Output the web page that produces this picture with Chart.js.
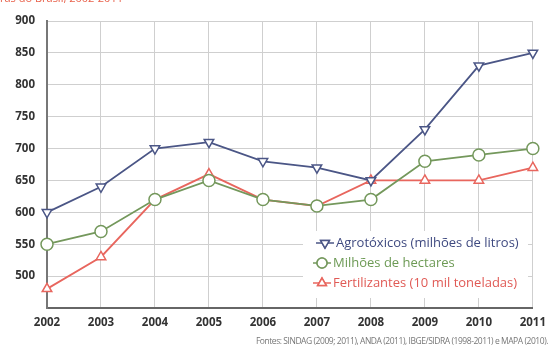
<!DOCTYPE html>
<html>
<head>
<meta charset="utf-8">
<script src="https://cdn.jsdelivr.net/npm/chart.js@4/dist/chart.umd.min.js"></script>
<style>
    html, body { margin: 0; padding: 0; background: #fff; }
    #wrap { position: relative; width: 554px; height: 356px; overflow: hidden; }
    #title { position: absolute; left: 0; top: -10px; font: 11px "Open Sans", sans-serif; color: #e8604a; white-space: nowrap; }
    #source { position: absolute; right: 6px; top: 335px; font: 8.5px "Open Sans", sans-serif; color: #777; white-space: nowrap; letter-spacing: -0.45px; }
</style>
</head>
<body>
<div id="wrap">
    <canvas id="chart" width="554" height="356"></canvas>
    <div id="title">ras do Brasil, 2002-2011</div>
    <div id="source">Fontes: SINDAG (2009; 2011), ANDA (2011), IBGE/SIDRA (1998-2011) e MAPA (2010).</div>
</div>
<script>
const years = ['2002', '2003', '2004', '2005', '2006', '2007', '2008', '2009', '2010', '2011'];
const agrotoxicos = [600, 640, 700, 710, 680, 670, 650, 730, 830, 850];
const hectares = [550, 570, 620, 650, 620, 610, 620, 680, 690, 700];
const fertilizantes = [480, 530, 620, 660, 620, 610, 650, 650, 650, 670];
const seriesNames = ['Agrotóxicos (milhões de litros)', 'Milhões de hectares', 'Fertilizantes (10 mil toneladas)'];

const lineColors = ['#4b5686', '#74985c', '#e8665e'];
const textColors = ['#3f4a80', '#6d9a55', '#e05a55'];

// legend box drawn inside the plot, bottom right
const insideLegend = {
    id: 'insideLegend',
    afterDatasetsDraw(chart) {
        const ctx = chart.ctx;
        ctx.save();
        ctx.fillStyle = '#fff';
        ctx.fillRect(303, 231, 225, 67);
        chart.data.datasets.forEach((ds, i) => {
            const y = 243 + i * 20;
            const mx = i === 0 ? 325 : 322;
            ctx.strokeStyle = ds.borderColor;
            ctx.lineWidth = 1.5;
            ctx.beginPath();
            ctx.moveTo(mx - 9, y);
            ctx.lineTo(mx + 9, y);
            ctx.stroke();
            ctx.fillStyle = '#fff';
            Chart.helpers.drawPoint(ctx, {
                pointStyle: ds.pointStyle,
                rotation: ds.pointRotation || 0,
                radius: 5,
                borderWidth: 1.5
            }, mx, y);
            ctx.fill();
            ctx.stroke();
            ctx.fillStyle = textColors[i];
            ctx.font = '13px "Open Sans", sans-serif';
            ctx.textBaseline = 'middle';
            ctx.fillText(seriesNames[i], mx + 11, y);
        });
        ctx.restore();
    }
};

function makeSet(label, data, color, style, rot, r) {
    return {
        label: label,
        data: data,
        borderColor: color,
        backgroundColor: '#fff',
        borderWidth: 1.8,
        pointStyle: style,
        pointRotation: rot,
        pointRadius: r,
        pointBorderWidth: 1.5,
        pointBackgroundColor: '#fff',
        tension: 0
    };
}

new Chart(document.getElementById('chart'), {
    type: 'line',
    data: {
        labels: years,
        datasets: [
            makeSet(seriesNames[0], agrotoxicos, lineColors[0], 'triangle', 180, 5.5),
            makeSet(seriesNames[1], hectares, lineColors[1], 'circle', 0, 6),
            makeSet(seriesNames[2], fertilizantes, lineColors[2], 'triangle', 0, 5.5)
        ]
    },
    options: {
        responsive: false,
        animation: false,
        layout: { padding: { left: 0, right: 14, top: 21, bottom: 0 } },
        scales: {
            x: {
                offset: false,
                grid: { color: '#cfcfcf', lineWidth: 1, drawTicks: false },
                border: { color: '#666', width: 2 },
                ticks: { color: '#333', padding: 8, maxRotation: 0, autoSkip: false, font: { family: 'Open Sans', size: 11.5, weight: 'bold' } },
                afterFit(scale) { scale.height = 48; }
            },
            y: {
                min: 450,
                max: 900,
                grid: { color: '#cfcfcf', lineWidth: 1, drawTicks: false },
                border: { color: '#777', width: 2 },
                ticks: {
                    stepSize: 50,
                    color: '#333',
                    padding: 12,
                    font: { family: 'Open Sans', size: 11.5, weight: 'bold' },
                    callback: v => v === 450 ? '' : v
                },
                afterFit(scale) { scale.width = 47; }
            }
        },
        plugins: {
            legend: { display: false },
            tooltip: { enabled: false }
        }
    },
    plugins: [insideLegend]
});
</script>
</body>
</html>
